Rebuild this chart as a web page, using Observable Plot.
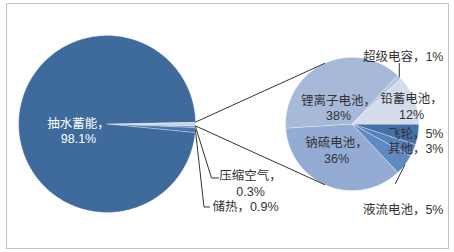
<!DOCTYPE html>
<html><head><meta charset="utf-8">
<script src="https://cdn.jsdelivr.net/npm/d3@7"></script>
<script src="https://cdn.jsdelivr.net/npm/@observablehq/plot@0.6"></script>
<style>body{margin:0;background:#fff}</style>
</head><body><div id="chart"></div>
<script>
// Installed storage capacity by technology (%), with the non-hydro share broken down
const mainLabels = ["电化学等", "压缩空气", "储热", "抽水蓄能"];
const mainShares = [0.7, 0.3, 0.9, 98.1];
const subLabels = ["飞轮", "其他", "液流电池", "钠硫电池", "锂离子电池", "超级电容", "铅蓄电池"];
const subShares = [5, 3, 5, 36, 38, 1, 12];

// palette
const mainColors = ["#c9d3e6", "#6d90c4", "#4b76aa", "#3e6a9c"];
const subColors = ["#4470a8", "#5681bb", "#6089c2", "#94abd3", "#a6b9d9", "#b6c4df", "#d4dbe9"];

// layout (pixels)
const W = 454, H = 252;
const big = {cx: 106.6, cy: 123.5, r: 88.5};
const sub = {cx: 351.7, cy: 123.5, r: 66.6};
const font = "'Liberation Sans', 'Noto Sans CJK SC', sans-serif";

const labelPos = {
  "抽水蓄能": {x: 78, y: 130, anchor: "middle", wrap: true, fill: "white"},
  "压缩空气": {x: 250, y: 182.5, anchor: "middle", wrap: true},
  "储热": {x: 212, y: 205, anchor: "start"},
  "锂离子电池": {x: 338, y: 107, anchor: "middle", wrap: true},
  "钠硫电池": {x: 336, y: 149.5, anchor: "middle", wrap: true},
  "铅蓄电池": {x: 411, y: 105.5, anchor: "middle", wrap: true},
  "超级电容": {x: 443, y: 55, anchor: "end"},
  "飞轮": {x: 443, y: 132, anchor: "end"},
  "其他": {x: 443, y: 147, anchor: "end"},
  "液流电池": {x: 443, y: 208, anchor: "end"}
};
// leader bends, after the slice edge point
const leaderPts = {
  "压缩空气": [[211, 177.5], [218, 177.5]],
  "储热": [[203.5, 206.5], [209, 206.5]],
  "超级电容": [[398.8, 63]],
  "液流电池": [[395, 183]]
};

const deg = Math.PI / 180;
const point = (p, a) => [p.cx + p.r * Math.sin(a), p.cy - p.r * Math.cos(a)];

// combined slice centred on 3 o'clock; breakdown pie starts at 3 o'clock, clockwise
const a0 = Math.PI / 2 - mainShares[0] / 100 * Math.PI;
const mainArcs = d3.pie().sort(null).startAngle(a0).endAngle(a0 + 2 * Math.PI)(mainShares);
const subArcs = d3.pie().sort(null).startAngle(Math.PI / 2).endAngle(Math.PI / 2 + 2 * Math.PI)(subShares);

function polygon(p, arc, name) {
  const rows = [{name, x: p.cx, y: p.cy}];
  const n = Math.max(2, Math.ceil((arc.endAngle - arc.startAngle) / deg));
  for (let i = 0; i <= n; i++) {
    const [x, y] = point(p, arc.startAngle + (arc.endAngle - arc.startAngle) * i / n);
    rows.push({name, x, y});
  }
  return rows;
}
const slices = [
  ...mainArcs.flatMap((a, i) => polygon(big, a, mainLabels[i])),
  ...subArcs.flatMap((a, i) => polygon(sub, a, subLabels[i]))
];

// connectors: from the combined slice edges, tangent to the breakdown pie
function tangent(E, top) {
  const vx = E[0] - sub.cx, vy = E[1] - sub.cy;
  const d = Math.hypot(vx, vy), t0 = Math.atan2(vy, vx), t = Math.acos(sub.r / d);
  const c = [t0 + t, t0 - t].map(a => [sub.cx + sub.r * Math.cos(a), sub.cy + sub.r * Math.sin(a)]);
  return c.sort((p, q) => top ? p[1] - q[1] : q[1] - p[1])[0];
}
const eTop = point(big, mainArcs[0].startAngle), eBot = point(big, mainArcs[0].endAngle);
const connectors = [
  {id: "top", x: eTop[0], y: eTop[1]}, {id: "top", x: tangent(eTop, true)[0], y: tangent(eTop, true)[1]},
  {id: "bot", x: eBot[0], y: eBot[1]}, {id: "bot", x: tangent(eBot, false)[0], y: tangent(eBot, false)[1]}
];

// leader lines from slice edges to the labels
const allSlices = [
  ...mainArcs.map((a, i) => ({name: mainLabels[i], share: mainShares[i], arc: a, pie: big})),
  ...subArcs.map((a, i) => ({name: subLabels[i], share: subShares[i], arc: a, pie: sub}))
];
const leaders = allSlices.filter(d => leaderPts[d.name]).flatMap(d => {
  const s = point(d.pie, (d.arc.startAngle + d.arc.endAngle) / 2);
  const pts = [[s[0], s[1]], ...leaderPts[d.name].map(p => p.slice())];
  if (d.name === "超级电容") pts[1][0] = s[0];
  return pts.map(([x, y]) => ({name: d.name, x, y}));
});

const labels = allSlices.filter(d => labelPos[d.name]).map(d => {
  const L = labelPos[d.name];
  return {...L, text: L.wrap ? `${d.name}，\n${d.share}%` : `${d.name}，${d.share}%`};
});

const textMark = (rows, anchor, fill) => Plot.text(rows.filter(d => d.anchor === anchor && (d.fill || "#333") === fill), {
  x: "x", y: "y", text: "text", textAnchor: anchor, fill, fontFamily: font, fontSize: 12.5, lineHeight: 1.25
});

const chart = Plot.plot({
  width: W, height: H,
  marginLeft: 6, marginRight: 6, marginTop: 3, marginBottom: 4,
  x: {domain: [6, W - 6], axis: null},
  y: {domain: [3, H - 4], reverse: true, axis: null},
  color: {domain: [...mainLabels, ...subLabels], range: [...mainColors, ...subColors]},
  style: {background: "white"},
  marks: [
    Plot.frame({stroke: "#c4c4c4"}),
    Plot.line(slices, {x: "x", y: "y", z: "name", fill: "name", stroke: "white", strokeWidth: 0.5, strokeOpacity: 0.7, curve: "linear-closed"}),
    Plot.line(connectors, {x: "x", y: "y", z: "id", stroke: "#333", strokeWidth: 1}),
    Plot.line(leaders, {x: "x", y: "y", z: "name", stroke: "#333", strokeWidth: 1}),
    textMark(labels, "middle", "white"),
    textMark(labels, "middle", "#333"),
    textMark(labels, "start", "#333"),
    textMark(labels, "end", "#333")
  ]
});
document.getElementById("chart").append(chart);
</script>
</body></html>
